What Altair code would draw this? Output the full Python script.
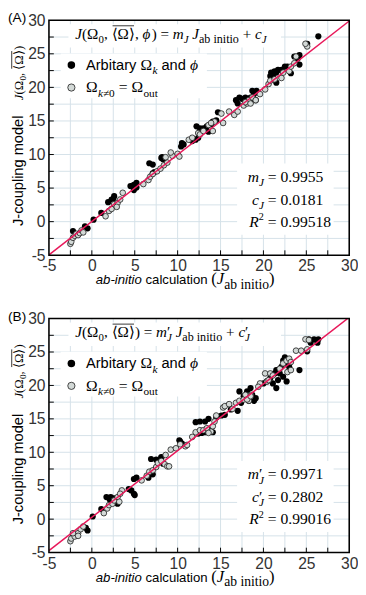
import altair as alt
import pandas as pd

# ---------------- data ----------------
A_black_x = [-2.2, -0.8, -0.5, 0.2, 1.1, 1.9, 2.3, 2.6, 2.5, 4.5, 4.9, 5.2, 5.2, 4.9, 6.7, 7.1, 8.1, 7.1, 7.3,
             8.2, 8.3, 10.5, 10.7, 10.4, 12.2, 12.6, 13.0, 13.4, 13.6, 12.4, 12.1, 11.7, 14.1, 14.5, 13.9, 14.7,
             16.8, 17.2, 17.5, 17.0, 18.5, 18.7, 26.4, 25.1, 24.2, 24.0, 24.2, 22.8, 22.5, 22.1, 21.7, 21.3, 20.9,
             21.1, 21.5, 20.8, 21.5, 19.2, 18.9, 19.1, 18.5, 17.9, 23.6, 23.2]
A_black_y = [-1.4, -0.7, -1.0, 0.3, 1.3, 2.9, 3.3, 3.8, 3.4, 5.3, 5.5, 5.8, 5.1, 4.7, 8.7, 8.5, 9.5, 7.2, 7.4,
             9.6, 9.3, 11.7, 11.5, 11.2, 14.2, 13.9, 13.9, 14.2, 13.4, 12.5, 12.2, 12.0, 14.9, 15.1, 14.5, 16.3,
             18.1, 18.5, 18.3, 17.6, 18.5, 19.5, 27.6, 26.5, 24.8, 24.3, 23.4, 23.1, 23.1, 22.6, 22.6, 22.4, 22.2,
             21.7, 22.2, 21.7, 20.7, 19.5, 19.0, 18.1, 17.8, 18.5, 24.6, 22.1]
A_grey_x = [-2.5, -2.4, -2.2, -2.0, -1.8, -1.6, -1.4, -1.2, -1.0, 1.6, 2.0, 2.3, 2.6, 3.0, 3.3, 3.6, 2.9, 6.0,
            6.6, 6.8, 7.1, 7.6, 8.0, 8.4, 8.8, 9.4, 8.6, 9.2, 10.0, 10.2, 11.3, 11.7, 12.4, 12.6, 13.0, 13.6,
            14.3, 13.9, 15.1, 15.3, 16.0, 16.6, 17.0, 17.7, 18.1, 18.3, 18.7, 17.9, 18.5, 19.1, 19.6, 20.2, 20.6,
            20.8, 21.3, 22.1, 22.3, 23.0, 23.2, 23.6, 23.8, 25.1, 24.9, 14.1]
A_grey_y = [-3.3, -3.0, -2.4, -2.1, -1.8, -2.0, -1.7, -1.3, -1.6, 0.8, 1.6, 1.9, 2.6, 2.8, 3.3, 4.3, 2.2, 5.6,
            6.2, 6.7, 7.1, 7.5, 7.9, 8.4, 8.8, 9.8, 9.6, 10.3, 10.1, 9.7, 12.2, 12.5, 13.2, 13.0, 13.5, 14.4,
            14.9, 14.7, 16.1, 14.7, 16.4, 15.9, 16.4, 17.3, 17.6, 18.1, 18.5, 17.8, 17.6, 18.1, 19.0, 19.7, 20.5,
            21.0, 21.2, 21.4, 22.2, 22.4, 23.1, 23.6, 24.6, 26.1, 26.5, 13.5]

B_black_x = [-2.2, -2.0, -0.7, -0.5, 0.1, 1.1, 1.7, 2.2, 2.6, 2.4, 3.0, 2.1, 4.3, 4.6, 4.9, 5.0, 4.9, 5.2, 6.9,
             7.5, 8.1, 8.3, 7.1, 6.6, 8.1, 10.3, 10.5, 10.2, 12.1, 12.6, 13.2, 13.6, 12.4, 12.8, 13.2, 13.8, 14.1,
             14.5, 15.1, 15.5, 16.2, 17.2, 17.4, 17.0, 17.7, 18.1, 18.3, 25.3, 25.9, 26.4, 26.3, 25.5, 25.1, 24.2,
             22.3, 22.5, 22.7, 22.1, 21.5, 21.3, 21.9, 22.3, 21.7, 21.5, 21.1, 20.8, 20.4, 20.0, 22.7, 23.0, 18.5,
             18.1, 18.7, 19.1, 18.9, 18.3]
B_black_y = [-2.3, -2.4, -1.3, -1.7, 0.4, 1.5, 3.3, 3.3, 3.1, 2.6, 2.3, 2.9, 4.5, 4.3, 3.8, 3.6, 6.0, 6.2, 9.0,
             8.9, 9.2, 8.3, 6.7, 6.2, 9.3, 11.6, 11.3, 11.8, 14.5, 14.6, 14.6, 15.0, 12.8, 12.9, 13.0, 13.3, 13.0,
             15.2, 15.5, 15.6, 16.4, 19.1, 17.4, 16.2, 18.4, 18.9, 18.1, 26.9, 26.9, 26.9, 26.4, 26.4, 25.1, 22.3,
             23.7, 24.2, 23.3, 22.8, 22.3, 21.8, 21.8, 21.3, 20.8, 19.6, 20.3, 21.1, 20.6, 20.3, 20.6, 22.8, 19.6,
             19.1, 18.6, 18.1, 17.7, 17.7]
B_grey_x = [-2.5, -2.4, -2.0, -1.6, -1.3, -1.0, -2.2, -1.6, 1.4, 1.8, 2.0, 2.4, 2.6, 3.0, 3.2, 3.5, 3.3, 5.8,
            6.4, 6.7, 7.1, 7.5, 7.7, 8.1, 8.5, 8.8, 9.0, 8.6, 9.2, 9.8, 10.3, 10.9, 11.1, 11.7, 12.1, 12.6, 13.0,
            13.4, 13.9, 13.6, 14.1, 14.5, 14.3, 15.3, 15.5, 16.0, 16.4, 16.8, 17.2, 17.7, 18.1, 18.5, 18.3, 24.9,
            25.3, 23.8, 24.4, 25.1, 22.3, 22.7, 23.0, 23.2, 20.2, 20.8, 21.1, 20.4, 20.6, 19.6, 19.4, 22.8, 23.2,
            21.9, 17.9, 18.1, 18.5]
B_grey_y = [-3.3, -2.9, -2.6, -2.1, -1.5, -1.1, -2.1, -2.5, 0.9, 1.6, 2.1, 2.3, 2.8, 3.3, 2.6, 4.3, 3.8, 5.8,
            6.5, 7.1, 7.3, 7.8, 8.4, 8.7, 8.2, 7.9, 7.9, 9.6, 10.4, 10.6, 11.2, 10.9, 11.1, 12.3, 13.0, 13.3, 13.3,
            13.6, 13.1, 12.9, 13.9, 15.5, 14.6, 16.7, 16.9, 17.2, 16.5, 17.4, 17.7, 17.9, 18.1, 18.6, 17.7, 26.9,
            26.8, 25.2, 25.2, 25.4, 23.3, 23.7, 24.0, 23.5, 21.8, 21.8, 21.5, 20.6, 20.8, 20.3, 19.8, 22.0, 22.3,
            22.5, 18.6, 17.9, 18.4]

A_fit = [0.9955, 0.0181, 0.99518]
B_fit = [0.9971, 0.2802, 0.99016]

label_ticks = [-5, 0, 5, 10, 15, 20, 25, 30]
minor_ticks = [-2.5, 0, 2.5, 5, 7.5, 10, 12.5, 15, 17.5, 20, 22.5, 25, 27.5]
panel_labels = ["(A)", "(B)"]
y_title_text = "J-coupling model"
x_title_text = ["ab-initio", " calculation "]
legend_text = ["Arbitary ", " and "]

# ---------------- styling ----------------
SERIF = "Liberation Serif"
SANS = "Liberation Sans"
W = 308
GRID = "#d5e1e8"
RED = "#e8185a"

XS = alt.Scale(domain=[-5, 30], nice=False, zero=False)
YS = alt.Scale(domain=[-5, 30], nice=False, zero=False)
AXX = alt.Axis(values=label_ticks, labelExpr="'' + datum.value", grid=False, domain=False, ticks=False,
               labelFont=SANS, labelFontSize=16, labelColor="#333333", labelPadding=3,
               labelFlush=False, labelOverlap=False, title=None)
AXY = alt.Axis(values=label_ticks, labelExpr="'' + datum.value", grid=False, domain=False, ticks=False,
               labelFont=SANS, labelFontSize=16, labelColor="#333333", labelPadding=4,
               labelFlush=False, labelOverlap=False, title=None)

W_SERIF = {' ': 250, '(': 333, ')': 333, ',': 250, '=': 564, '+': 564, '.': 250, 'a': 444, 'b': 500,
           'i': 278, 'n': 500, 't': 278, 'o': 500, 'u': 500, 'Ω': 768, '⟨': 390, '⟩': 390, '≠': 564,
           '2': 500, '′': 275, 'J': 389, 'k': 500}
W_SERIF_IT = {'J': 444, 'm': 722, 'c': 444, 'R': 611, 'k': 444, 'ϕ': 600, ' ': 250}
W_SANS = {'A': 667, 'r': 333, 'b': 556, 'i': 222, 't': 278, 'a': 556, 'y': 500, ' ': 278, 'n': 556,
          'd': 556, 'c': 500, 'l': 222, 'u': 556, 'o': 556, '-': 333, 'J': 500, 'p': 556, 'g': 556,
          'm': 833, 'e': 556, '(': 333, ')': 333}


def glyph_w(ch, kind, italic):
    if kind == "sans":
        return W_SANS.get(ch, 556)
    if italic and ch in W_SERIF_IT:
        return W_SERIF_IT[ch]
    return W_SERIF.get(ch, 500)


def one():
    return alt.Data(values=[{"k": 0}])


def text_layer(txt, x, y, size, kind, italic, angle=0, color="black"):
    return alt.Chart(one()).mark_text(
        text=txt, font=SERIF if kind == "serif" else SANS, fontSize=size,
        fontStyle="italic" if italic else "normal", align="left", baseline="alphabetic",
        angle=angle, color=color
    ).encode(x=alt.value(x), y=alt.value(y))


def tok_size(tok, size):
    txt, kind, it, lvl = tok[:4]
    opts = tok[4] if len(tok) > 4 else {}
    base = opts.get("size", size)
    ratio = opts.get("sub", 0.72)
    s = base * (ratio if lvl < 0 else (0.65 if lvl > 0 else 1.0))
    return base, s


def width_of(tokens, size):
    pos = 0.0
    for tok in tokens:
        txt, kind, it, lvl = tok[:4]
        opts = tok[4] if len(tok) > 4 else {}
        base, s = tok_size(tok, size)
        w = sum(glyph_w(c, kind, it) for c in txt) * s / 1000
        if not opts.get("noadv"):
            pos += w
    return pos


def rich(tokens, x0, y0, size, angle=0):
    layers = []
    pos = 0.0
    for tok in tokens:
        txt, kind, it, lvl = tok[:4]
        opts = tok[4] if len(tok) > 4 else {}
        base, s = tok_size(tok, size)
        shift = 0.28 * base if lvl < 0 else (-0.42 * base if lvl > 0 else 0.0)
        sw = glyph_w(' ', kind, it) * s / 1000
        core = txt.strip(' ')
        lead = len(txt) - len(txt.lstrip(' '))
        trail = len(txt) - len(txt.rstrip(' '))
        start = pos + lead * sw
        if angle == 0:
            x, y = x0 + start, y0 + shift
        else:
            x, y = x0 + shift, y0 - start
        layers.append(text_layer(core, x, y, s, kind, it, angle))
        w = sum(glyph_w(c, kind, it) for c in core) * s / 1000
        if opts.get("over"):
            oy = -0.86 * base
            if angle == 0:
                layers.append(alt.Chart(one()).mark_rule(color="black", strokeWidth=0.8).encode(
                    x=alt.value(x0 + start + 1), x2=alt.value(x0 + start + w - 1), y=alt.value(y0 + oy)))
            else:
                layers.append(alt.Chart(one()).mark_rule(color="black", strokeWidth=0.8).encode(
                    x=alt.value(x0 + oy), y=alt.value(y0 - start - 1), y2=alt.value(y0 - start - w + 1)))
        if not opts.get("noadv"):
            pos = start + w + trail * sw
    return layers


def box(x1, x2, y1, y2):
    return alt.Chart(one()).mark_rect(color="white").encode(
        x=alt.value(x1), x2=alt.value(x2), y=alt.value(y1), y2=alt.value(y2))


SUBW = {"sub": 0.8}


def panel(bx, by, gx, gy, fit, H, label, formula, primed):
    m, c, r2 = fit
    layers = []
    # grid
    layers.append(alt.Chart(pd.DataFrame({"v": minor_ticks})).mark_rule(color=GRID, strokeWidth=1).encode(
        x=alt.X("v:Q", scale=XS, axis=AXX), y=alt.value(0), y2=alt.value(H)))
    layers.append(alt.Chart(pd.DataFrame({"v": minor_ticks})).mark_rule(color=GRID, strokeWidth=1).encode(
        y=alt.Y("v:Q", scale=YS, axis=AXY), x=alt.value(0), x2=alt.value(W)))
    # white boxes
    layers.append(box(20, 238, 4, 28))
    layers.append(box(12, 162, 34, 80))
    layers.append(box(193, 292, H - 94, H - 21))
    # points
    layers.append(alt.Chart(pd.DataFrame({"x": bx, "y": by})).mark_circle(
        size=40, color="black", opacity=1).encode(
        x=alt.X("x:Q", scale=XS, axis=AXX), y=alt.Y("y:Q", scale=YS, axis=AXY)))
    layers.append(alt.Chart(pd.DataFrame({"x": gx, "y": gy})).mark_circle(
        size=34, fill="#d3d9d7", stroke="#1a1a1a", strokeWidth=0.8, opacity=1).encode(
        x=alt.X("x:Q", scale=XS, axis=AXX), y=alt.Y("y:Q", scale=YS, axis=AXY)))
    # fit line
    lx = [-5, 30]
    layers.append(alt.Chart(pd.DataFrame({"x": lx, "y": [m * v + c for v in lx]})).mark_line(
        color=RED, strokeWidth=1.5, clip=True).encode(
        x=alt.X("x:Q", scale=XS, axis=AXX), y=alt.Y("y:Q", scale=YS, axis=AXY)))
    # inward ticks
    layers.append(alt.Chart(pd.DataFrame({"v": minor_ticks})).mark_rule(color="black", strokeWidth=1).encode(
        x=alt.X("v:Q", scale=XS, axis=AXX), y=alt.value(H), y2=alt.value(H - 5)))
    layers.append(alt.Chart(pd.DataFrame({"v": minor_ticks})).mark_rule(color="black", strokeWidth=1).encode(
        y=alt.Y("v:Q", scale=YS, axis=AXY), x=alt.value(0), x2=alt.value(5)))
    # frame
    layers.append(alt.Chart(one()).mark_rect(fill="transparent", stroke="black", strokeWidth=1.6).encode(
        x=alt.value(0), x2=alt.value(W), y=alt.value(0), y2=alt.value(H)))

    # panel label
    layers.append(text_layer(label, -42, 2, 14, "sans", False))
    # y title
    layers += rich([(y_title_text, "sans", False, 0)], -27, 211, 15, angle=270)
    layers += rich([("J", "serif", True, 0), ("(Ω", "serif", False, 0), ("0", "serif", False, -1),
                    (", ", "serif", False, 0), ("⟨Ω⟩", "serif", False, 0, {"over": True}),
                    (")", "serif", False, 0)], -27, 82, 13, angle=270)
    # x title
    layers += rich([(x_title_text[0], "sans", True, 0), (x_title_text[1], "sans", False, 0),
                    ("(", "serif", False, 0, {"size": 17}), ("J", "serif", True, 0, {"size": 17}),
                    ("ab initio", "serif", False, -1, {"size": 17, "sub": 0.82}),
                    (")", "serif", False, 0, {"size": 17})],
                   48, H + 30, 13.5)
    # formula
    layers += rich(formula, 27, 19, 15.5)
    # legend
    layers.append(alt.Chart(one()).mark_circle(size=60, color="black", opacity=1).encode(
        x=alt.value(23), y=alt.value(46)))
    layers.append(alt.Chart(one()).mark_circle(size=55, fill="#d3d9d7", stroke="#1a1a1a", strokeWidth=0.8,
                                               opacity=1).encode(x=alt.value(23), y=alt.value(69)))
    layers += rich([(legend_text[0], "sans", False, 0, {"size": 15}), ("Ω", "serif", False, 0),
                    ("k", "serif", True, -1), (legend_text[1], "sans", False, 0, {"size": 15}),
                    ("ϕ", "serif", True, 0)], 38, 51, 16)
    layers += rich([("Ω", "serif", False, 0), ("k", "serif", True, -1), ("≠0", "serif", False, -1),
                    (" = Ω", "serif", False, 0), ("out", "serif", False, -1)], 38, 74, 16)
    # stats
    p = [("′", "serif", False, 0, {"noadv": True})] if primed else []
    lines = [
        ([("m", "serif", True, 0)] + p + [("J", "serif", True, -1)], f"{m:.4f}"),
        ([("c", "serif", True, 0)] + p + [("J", "serif", True, -1)], f"{c:.4f}"),
        ([("R", "serif", True, 0), ("2", "serif", False, 1)], f"{r2:.5f}"),
    ]
    x_eq = 229
    for i, (lhs, num) in enumerate(lines):
        toks = lhs + [(" = " + num, "serif", False, 0)]
        lw = width_of(lhs, 16) + (250 + 282) * 16 / 1000
        layers += rich(toks, x_eq - lw, H - 75 + 23 * i, 16)
    return alt.layer(*layers).properties(width=W, height=H)


formula_A = [("J", "serif", True, 0), ("(Ω", "serif", False, 0), ("0", "serif", False, -1),
             (", ", "serif", False, 0), ("⟨Ω⟩", "serif", False, 0, {"over": True}), (", ", "serif", False, 0),
             ("ϕ", "serif", True, 0), (") = ", "serif", False, 0), ("m", "serif", True, 0),
             ("J", "serif", True, -1), (" J", "serif", True, 0), ("ab initio", "serif", False, -1, SUBW),
             (" + ", "serif", False, 0), ("c", "serif", True, 0), ("J", "serif", True, -1)]
formula_B = [("J", "serif", True, 0), ("(Ω", "serif", False, 0), ("0", "serif", False, -1),
             (", ", "serif", False, 0), ("⟨Ω⟩", "serif", False, 0, {"over": True}),
             (") = ", "serif", False, 0), ("m", "serif", True, 0), ("′", "serif", False, 0, {"noadv": True}),
             ("J", "serif", True, -1), (" J", "serif", True, 0), ("ab initio", "serif", False, -1, SUBW),
             (" + ", "serif", False, 0), ("c", "serif", True, 0), ("′", "serif", False, 0, {"noadv": True}),
             ("J", "serif", True, -1)]

pA = panel(A_black_x, A_black_y, A_grey_x, A_grey_y, A_fit, 241, panel_labels[0], formula_A, False)
pB = panel(B_black_x, B_black_y, B_grey_x, B_grey_y, B_fit, 240, panel_labels[1], formula_B, True)

chart = alt.vconcat(pA, pB, spacing=18).properties(
    padding={"left": 0, "top": -4, "right": 0, "bottom": 0}).configure_view(strokeWidth=0)
chart.save("out.html", embed_options={"renderer": "svg", "actions": False})
